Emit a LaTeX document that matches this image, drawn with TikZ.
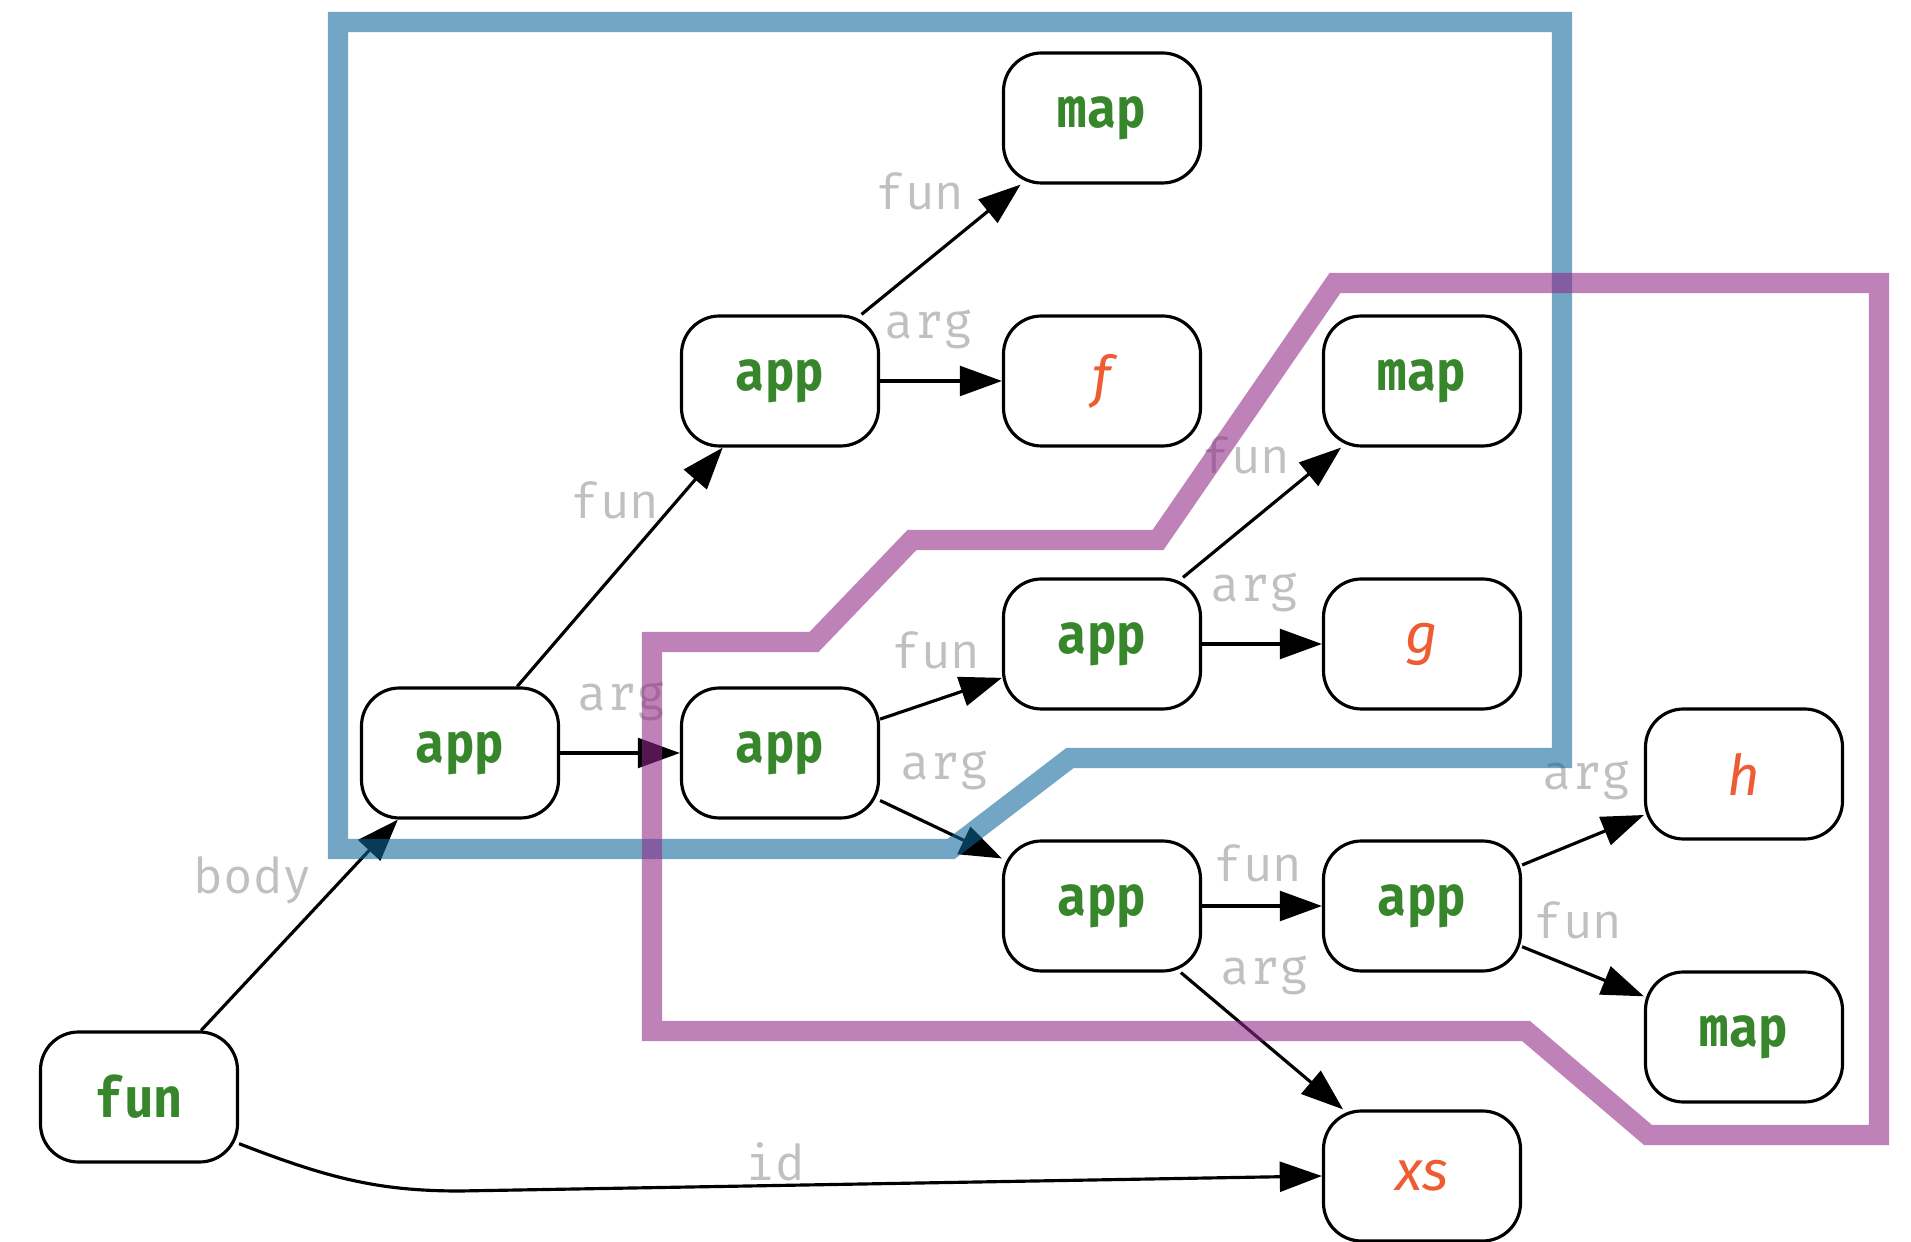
\documentclass[tikz,border=0pt]{standalone}
\usepackage{fontspec}
\setmainfont{Fira Sans}
\newfontfamily\codefont{Fira Mono}[BoldFont={Fira Mono Bold}]
\newfontfamily\kwfont{Fira Mono Bold}[FakeStretch=0.87]
\usetikzlibrary{arrows.meta}
\definecolor{kwgreen}{RGB}{56,134,44}
\definecolor{varred}{RGB}{238,92,52}
\definecolor{lblgray}{RGB}{192,192,192}
\definecolor{outerblue}{RGB}{14,102,153}
\definecolor{innerpurple}{RGB}{143,40,135}
\begin{document}
\begin{tikzpicture}[
    box/.style={draw, line width=0.9pt, rounded corners=0.38cm,
      minimum width=1.97cm, minimum height=1.30cm},
    kw/.style={box, text=kwgreen, font=\kwfont\fontsize{16}{18}\selectfont},
    var/.style={box, text=varred, font=\itshape\fontsize{16}{18}\selectfont},
    lbl/.style={text=lblgray, font=\codefont\fontsize{14}{16}\selectfont, inner sep=0pt},
    link/.style={line width=0.9pt, -{Triangle[length=12pt,width=8.5pt]}},
    region/.style={line width=5.8pt, opacity=0.58},
  ]
\useasboundingbox (0,0) rectangle (19.11,12.41);

\node[kw] (fun) at (1.39,1.44) {fun};
\node[kw] (app1) at (4.60,4.88) {app};
\node[kw] (app2) at (7.80,8.60) {app};
\node[kw] (app3) at (7.80,4.88) {app};
\node[kw] (map1) at (11.02,11.23) {map};
\node[var] (f) at (11.02,8.60) {f};
\node[kw] (app4) at (11.02,5.97) {app};
\node[kw] (app5) at (11.02,3.35) {app};
\node[kw] (map2) at (14.22,8.60) {map};
\node[var] (g) at (14.22,5.97) {g};
\node[kw] (app6) at (14.22,3.35) {app};
\node[var] (xs) at (14.22,0.65) {xs};
\node[var] (h) at (17.44,4.67) {h};
\node[kw] (map3) at (17.44,2.04) {map};

\draw[link] (fun) -- (app1);
\draw[link] (app1) -- (app2);
\draw[link] (app1) -- (app3);
\draw[link] (app2) -- (map1);
\draw[link] (app2) -- (f);
\draw[link] (app3) -- (app4);
\draw[link] (app3) -- (app5);
\draw[link] (app4) -- (map2);
\draw[link] (app4) -- (g);
\draw[link] (app5) -- (app6);
\draw[link] (app5) -- (xs);
\draw[link] (app6) -- (h);
\draw[link] (app6) -- (map3);
\draw[link] (fun.-25) .. controls (3.3,0.62) and (3.8,0.50) .. (4.6,0.50) -- (xs.west);

\node[lbl] (l-body) at (2.53,3.61) {body};
\node[lbl] (l-fun1) at (6.15,7.41) {fun};
\node[lbl] (l-arg1) at (6.22,5.40) {arg};
\node[lbl] (l-fun2) at (9.20,10.50) {fun};
\node[lbl] (l-arg2) at (9.29,9.12) {arg};
\node[lbl] (l-fun3) at (9.36,5.91) {fun};
\node[lbl] (l-arg3) at (9.45,4.71) {arg};
\node[lbl] (l-fun4) at (12.46,7.86) {fun};
\node[lbl] (l-arg4) at (12.55,6.49) {arg};
\node[lbl] (l-fun5) at (12.58,3.78) {fun};
\node[lbl] (l-arg5) at (12.65,2.66) {arg};
\node[lbl] (l-arg6) at (15.87,4.61) {arg};
\node[lbl] (l-fun6) at (15.78,3.21) {fun};
\node[lbl] (l-id) at (7.75,0.79) {id};

% shaded regions on top
\draw[region, outerblue] (3.38,12.19) -- (15.62,12.19) -- (15.62,4.83) -- (10.70,4.83)
  -- (9.51,3.92) -- (3.38,3.92) -- cycle;
\draw[region, innerpurple] (6.52,5.99) -- (8.14,5.99) -- (9.12,7.01) -- (11.58,7.01)
  -- (13.35,9.58) -- (18.79,9.58) -- (18.79,1.06) -- (16.48,1.06) -- (15.26,2.10)
  -- (6.52,2.10) -- cycle;
\end{tikzpicture}
\end{document}
